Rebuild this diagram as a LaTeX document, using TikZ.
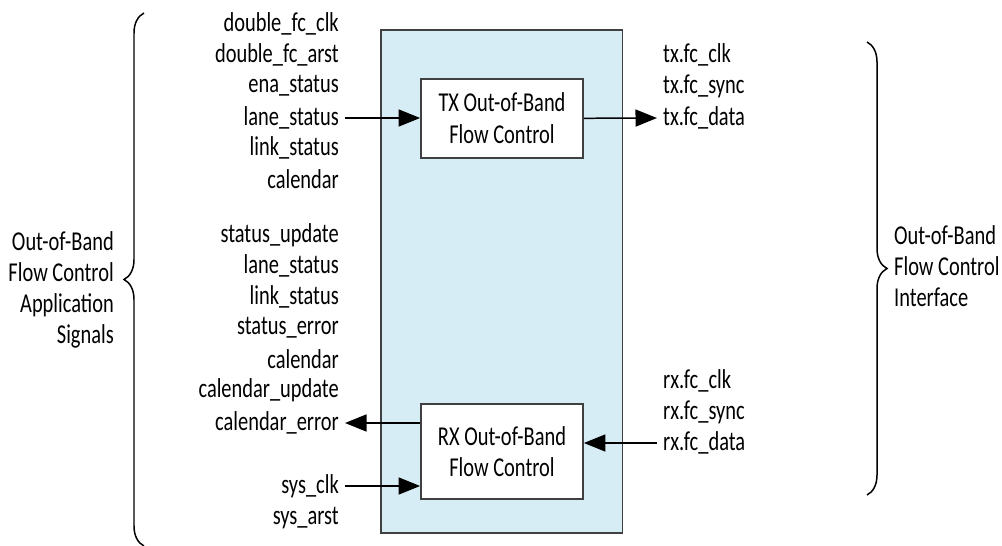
\documentclass[tikz,border=0pt]{standalone}
\usepackage{fontspec}
\setmainfont{Carlito}[FakeStretch=0.75]
\usepackage{xcolor}
\usetikzlibrary{arrows.meta}
\usetikzlibrary{decorations.pathreplacing}

\definecolor{corefill}{RGB}{214,237,245}
\definecolor{coreline}{RGB}{64,64,64}

\begin{document}
\begin{tikzpicture}[]
	%\draw[help lines] (0,0) grid (20,-11);
	\useasboundingbox (0,0) rectangle (20.04,-10.92);
	
	\tikzstyle{cnode} = [draw=coreline,line width=1pt,fill=corefill,minimum width=4.83cm,minimum height=10.06cm]
	\tikzstyle{fnode} = [draw=coreline,line width=1pt,fill=white,minimum width=3.24cm,align=center,font=\fontsize{15.5}{18}\selectfont]
	\tikzstyle{lnode} = [anchor=east,font=\fontsize{15.5}{17.6}\selectfont]
	\tikzstyle{rnode} = [anchor=west,font=\fontsize{15.5}{17.6}\selectfont]
	\tikzstyle{sedge} = [-{Triangle[length=0.43cm,width=0.34cm]},line width=0.85pt]
	\tikzstyle{bedge} = [decorate,decoration={brace,amplitude=0.4cm},line width=0.85pt]
	
	
	\node[cnode] (core) at (10.035, -5.63) {};
	
	\node[fnode,minimum height=1.58cm] (tx) at (10.04, -2.366) {TX Out-of-Band\\Flow Control};
	\node[fnode,minimum height=1.9cm] (rx) at (10.04, -9.034) {RX Out-of-Band\\Flow Control};
	
	\node[lnode] (dclk) at (6.9, -0.48) {double\_fc\_clk};
	\node[lnode] (darst) at (6.9, -1.10) {double\_fc\_arst};
	\node[lnode] (ena) at (6.9, -1.72) {ena\_status};
	\node[lnode] (lanetx) at (6.9, -2.36) {lane\_status};
	\node[lnode] (linktx) at (6.9, -2.96) {link\_status};
	\node[lnode] (caltx) at (6.9, -3.58) {calendar};
	
	\node[lnode] (stupd) at (6.9, -4.70) {status\_update};
	\node[lnode] (lanerx) at (6.9, -5.32) {lane\_status};
	\node[lnode] (linkrx) at (6.9, -5.94) {link\_status};
	\node[lnode] (sterr) at (6.9, -6.56) {status\_error};
	\node[lnode] (calrx) at (6.9, -7.18) {calendar};
	\node[lnode] (calupd) at (6.9, -7.80) {calendar\_update};
	\node[lnode] (calerr) at (6.9, -8.46) {calendar\_error};
	\node[lnode] (sclk) at (6.9, -9.72) {sys\_clk};
	\node[lnode] (sarst) at (6.9, -10.36) {sys\_arst};
	
	\node[rnode] (txclk) at (13.14, -1.10) {tx.fc\_clk};
	\node[rnode] (txsync) at (13.14, -1.72) {tx.fc\_sync};
	\node[rnode] (txdata) at (13.14, -2.36) {tx.fc\_data};
	
	\node[rnode] (rxclk) at (13.14, -7.62) {rx.fc\_clk};
	\node[rnode] (rxsync) at (13.14, -8.24) {rx.fc\_sync};
	\node[rnode] (rxdata) at (13.14, -8.86) {rx.fc\_data};
	
	\node[lnode,align=right] (appsig) at (2.40, -5.80) {Out-of-Band\\Flow Control\\Application\\Signals};
	\node[rnode,align=left] (ifsig) at (17.76, -5.32) {Out-of-Band\\Flow Control\\Interface};
	
	\coordinate (lb1) at (2.88, -10.92);
	\coordinate (lb2) at (2.88, -0.26);
	\coordinate (rb1) at (17.34, -0.84);
	\coordinate (rb2) at (17.34, -9.90);
	
	\draw (lanetx.east) edge [sedge] (lanetx.east -| tx.west);
	\draw (tx.east) edge [sedge] (txdata.west);
	
	\draw (calerr.east -| rx.west) edge [sedge] (calerr.east);
	\draw (sclk.east) edge [sedge] (sclk.east -| rx.west);
	\draw (rxdata.west) edge [sedge] (rxdata.west -| rx.east);
	
	\draw[bedge] (lb1) -- (lb2);
	\draw[bedge] (rb1) -- (rb2);

\end{tikzpicture}
\end{document}
